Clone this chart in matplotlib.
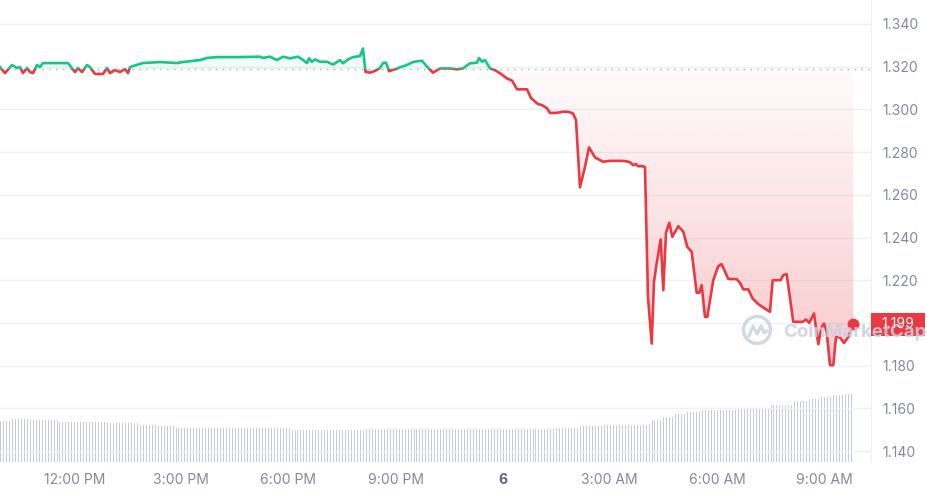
import numpy as np
import matplotlib
matplotlib.use("Agg")
import matplotlib.pyplot as plt
from matplotlib.patches import Rectangle, Ellipse
from matplotlib.path import Path
import matplotlib.transforms as mtransforms

plt.rcParams['font.family'] = ['Inter', 'DejaVu Sans']

# ---------------- data ----------------
# hours since midnight of day 5 (24 = "6", the next day)
hours = [9.919, 10.059, 10.255, 10.395, 10.479, 10.563, 10.675, 10.759, 10.843, 10.955,
         11.039, 11.123, 11.824, 12.020, 12.104, 12.216, 12.356, 12.440, 12.580, 12.804,
         12.916, 13.000, 13.140, 13.280, 13.420, 13.504, 13.560, 13.644, 13.925, 14.401,
         14.877, 15.045, 15.521, 15.717, 15.997, 16.642, 17.202, 17.286, 17.482, 17.678,
         17.846, 18.042, 18.266, 18.378, 18.518, 18.575, 18.659, 18.743, 18.883, 19.079,
         19.247, 19.443, 19.527, 19.667, 19.807, 20.003, 20.087, 20.157, 20.283, 20.423,
         20.563, 20.647, 20.731, 20.815, 20.983, 21.123, 21.319, 21.488, 21.740, 21.880,
         22.048, 22.244, 22.524, 22.720, 22.888, 23.084, 23.281, 23.337, 23.421, 23.504,
         23.645, 23.785, 23.925, 24.121, 24.261, 24.401, 24.681, 24.793, 24.989, 25.101,
         25.241, 25.325, 25.521, 25.689, 25.829, 25.969, 26.053, 26.165, 26.306, 26.418,
         26.586, 26.810, 27.006, 27.286, 27.426, 27.566, 27.650, 27.734, 27.790, 27.902,
         27.986, 28.070, 28.174, 28.238, 28.314, 28.426, 28.499, 28.574, 28.667, 28.751,
         28.919, 29.059, 29.171, 29.294, 29.434, 29.507, 29.574, 29.667, 29.731, 29.899,
         30.039, 30.134, 30.319, 30.554, 30.647, 30.739, 30.879, 31.003, 31.159, 31.299,
         31.487, 31.563, 31.787, 31.860, 31.955, 32.140, 32.403, 32.496, 32.588, 32.720,
         32.840, 32.935, 33.000, 33.076, 33.168, 33.261, 33.336, 33.448, 33.560, 33.681,
         33.821]

prices = [1.3198, 1.3170, 1.3208, 1.3194, 1.3198, 1.3170, 1.3194, 1.3175, 1.3170, 1.3208,
          1.3198, 1.3217, 1.3217, 1.3175, 1.3194, 1.3175, 1.3208, 1.3198, 1.3166, 1.3166,
          1.3194, 1.3170, 1.3184, 1.3175, 1.3189, 1.3170, 1.3198, 1.3203, 1.3217, 1.3222,
          1.3217, 1.3222, 1.3231, 1.3241, 1.3245, 1.3245, 1.3247, 1.3241, 1.3247, 1.3231,
          1.3247, 1.3239, 1.3247, 1.3235, 1.3217, 1.3239, 1.3223, 1.3234, 1.3223, 1.3223,
          1.3210, 1.3231, 1.3216, 1.3234, 1.3245, 1.3250, 1.3285, 1.3176, 1.3172, 1.3180,
          1.3194, 1.3217, 1.3219, 1.3179, 1.3188, 1.3197, 1.3208, 1.3222, 1.3228, 1.3200,
          1.3172, 1.3192, 1.3192, 1.3188, 1.3192, 1.3216, 1.3219, 1.3241, 1.3223, 1.3231,
          1.3192, 1.3184, 1.3169, 1.3145, 1.3135, 1.3094, 1.3094, 1.3053, 1.3025, 1.3020,
          1.3005, 1.2983, 1.2984, 1.2989, 1.2989, 1.2981, 1.2950, 1.2635, 1.2731, 1.2822,
          1.2775, 1.2755, 1.2759, 1.2759, 1.2758, 1.2753, 1.2739, 1.2744, 1.2734, 1.2734,
          1.2730, 1.2122, 1.1903, 1.2192, 1.2280, 1.2391, 1.2153, 1.2422, 1.2469, 1.2403,
          1.2453, 1.2427, 1.2356, 1.2333, 1.2141, 1.2141, 1.2177, 1.2028, 1.2028, 1.2200,
          1.2266, 1.2275, 1.2206, 1.2205, 1.2188, 1.2157, 1.2157, 1.2114, 1.2088, 1.2072,
          1.2052, 1.2200, 1.2200, 1.2224, 1.2228, 1.2005, 1.2005, 1.2016, 1.2000, 1.2044,
          1.1900, 1.1981, 1.1997, 1.1958, 1.1802, 1.1802, 1.1934, 1.1932, 1.1906, 1.1934,
          1.1994]

baseline_price = 1.3189

# 24h volume bars (5-minute bars), run-length: level (relative units) x count
volume_levels = [41, 43, 42, 40, 39, 37, 36, 34, 32, 33, 34, 36, 37, 42, 45, 48, 50,
                 52, 54, 57, 61, 63, 65, 67, 68]
volume_counts = [4, 6, 10, 17, 10, 6, 6, 39, 25, 64, 8, 8, 16, 4, 4, 4, 5,
                 12, 11, 8, 5, 4, 4, 4, 3]
volume_start_hour = 9.919
volume_step_hours = 5 / 60

x_tick_hours = [12, 15, 18, 21, 24, 27, 30, 33]
x_tick_labels = ["12:00 PM", "3:00 PM", "6:00 PM", "9:00 PM", "6", "3:00 AM", "6:00 AM", "9:00 AM"]
y_ticks = [1.14, 1.16, 1.18, 1.20, 1.22, 1.24, 1.26, 1.28, 1.30, 1.32, 1.34]

# ---------------- style ----------------
GREEN = '#16c784'
RED = '#ea3943'
GRID = '#eff2f5'
LABEL = '#808a9d'

W, H = 928, 495
fig = plt.figure(figsize=(W / 100, H / 100), dpi=100)
fig.patch.set_facecolor('white')
rect = [0, 1 - 462 / H, 871 / W, 462 / H]

xlim = (9.919, 34.317)
ylim = (1.13485, 1.35124)

# volume axes (behind)
axv = fig.add_axes(rect, zorder=0)
vol = np.repeat(volume_levels, volume_counts)
vt = volume_start_hour + np.arange(len(vol)) * volume_step_hours
axv.vlines(vt, 0, vol, colors='#c5cddd', linewidth=0.72, snap=True, antialiased=False)
axv.set_xlim(*xlim)
axv.set_ylim(0, 462)
axv.axis('off')

# price axes
ax = fig.add_axes(rect, zorder=1)
ax.patch.set_visible(False)
ax.set_xlim(*xlim)
ax.set_ylim(*ylim)

h = np.array(hours)
p = np.array(prices)

# grid
ax.set_yticks(y_ticks)
ax.set_yticklabels([f"{v:.3f}" for v in y_ticks])
ax.grid(axis='y', color=GRID, lw=1)
ax.set_axisbelow(True)

# baseline dotted
ax.axhline(baseline_price, color='#a6b0c3', lw=1, ls=(0, (1, 4)), zorder=3)

# green fill (faint)
ax.fill_between(h, p, baseline_price, where=p >= baseline_price, interpolate=True,
                color=GREEN, alpha=0.06, lw=0, zorder=2)

# red gradient fill
red_poly = ax.fill_between(h, p, baseline_price, where=p <= baseline_price, interpolate=True,
                           facecolor='none', edgecolor='none', lw=0)
paths = red_poly.get_paths()
clip = Path.make_compound_path(*paths)
n = 256
alpha = np.linspace(0.27, 0.02, n)  # bottom -> top
img = np.zeros((n, 1, 4))
img[..., 0] = 234 / 255
img[..., 1] = 57 / 255
img[..., 2] = 67 / 255
img[:, 0, 3] = alpha
im = ax.imshow(img, extent=[h[0], h[-1], p.min(), baseline_price], origin='lower',
               aspect='auto', interpolation='bilinear', zorder=2)
im.set_clip_path(clip, ax.transData)
ax.set_xlim(*xlim)
ax.set_ylim(*ylim)

# price line: green above baseline, red below
lg, = ax.plot(h, p, color=GREEN, lw=1.9, solid_joinstyle='round', zorder=4)
lg.set_clip_path(Rectangle((xlim[0] - 1, baseline_price), 40, 1, transform=ax.transData))
lr, = ax.plot(h, p, color=RED, lw=1.9, solid_joinstyle='round', zorder=4)
lr.set_clip_path(Rectangle((xlim[0] - 1, baseline_price - 1), 40, 1, transform=ax.transData))

# end dot
ax.plot([h[-1]], [p[-1]], 'o', ms=7.5, color=RED, zorder=6, clip_on=False)

# spines & ticks
for s in ['top', 'left', 'bottom']:
    ax.spines[s].set_visible(False)
ax.spines['right'].set_color(GRID)
ax.yaxis.tick_right()
ax.tick_params(axis='y', length=0, pad=8, labelsize=10, labelcolor=LABEL)
ax.set_xticks(x_tick_hours)
ax.set_xticklabels(x_tick_labels)
ax.tick_params(axis='x', length=0, pad=8, labelsize=10, labelcolor=LABEL)
for lbl in ax.get_xticklabels():
    if lbl.get_text() == "6":
        lbl.set_fontweight('bold')
        lbl.set_color('#58667e')

# last price box
trans = mtransforms.blended_transform_factory(ax.transAxes, ax.transData)
ax.add_patch(Rectangle((1.0, p[-1] - 0.0054), 54 / 871, 0.0108, transform=trans,
                       facecolor=RED, edgecolor='none', clip_on=False, zorder=10))
ax.text(1.0 + 27 / 871, p[-1], f"{p[-1]:.3f}", transform=trans, ha='center', va='center',
        color='white', fontsize=10, zorder=11, clip_on=False)

# watermark
wm_color = '#c9d1df'
fig.text(783 / W, 1 - 332 / H, "CoinMarketCap", fontsize=13.5, fontweight='bold',
         color=wm_color, alpha=0.85, ha='left', va='center', zorder=20)
cx, cy = 757 / W, 1 - 330 / H
fig.add_artist(Ellipse((cx, cy), 27 / W, 27 / H, transform=fig.transFigure,
                       facecolor='none', edgecolor=wm_color, lw=2.4, alpha=0.85, zorder=20))
mx = np.array([-8, -4, 0, 4, 7, 10]) / W
my = np.array([-6, 4, -4, 4, -3, -1]) / H
fig.add_artist(plt.Line2D(cx + mx, cy + my, transform=fig.transFigure, color=wm_color,
                          lw=2.2, alpha=0.85, zorder=20, solid_joinstyle='round'))

fig.savefig('out.png', dpi=100, facecolor='white')
